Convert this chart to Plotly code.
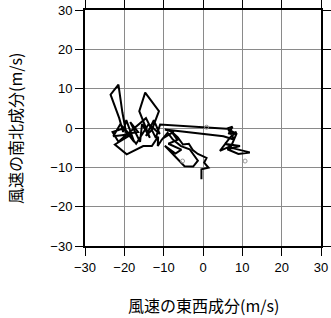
import plotly.graph_objects as go

# Hodograph: east-west (u) and north-south (v) wind components (m/s)
u = [-0.4, -0.4, 1.4, 0.3, 0.9, -1.3, -2.6, -3.6, -5.1, -6.4, -8.1, -6.5, -8.8,
     -5.5, -7.0, -9.7, -4.7, -2.5,
     -1.3, -3.4, -5.6, -7.6, -9.0, -10.5, -11.5, -11.4, -13.0, -15.2, -19.4, -22.4,
     -18.0, -22.8, -21.0, -17.5, -19.5, -20.3, -21.3, -23.5, -21.5, -20.5, -19.5,
     -16.5, -18.5, -16.0, -15.5, -13.5, -16.2, -14.7, -11.2, -13.0, -14.5, -12.5,
     -11.0, -13.8, -17.0, -20.0, -23.0, -21.5, -14.5, -12.0, -10.9, 0.9, 6.0, 7.5,
     6.5, 8.5, 6.9, 4.3, 7.3, 5.5, 9.4, 6.2, 9.0, 11.9, 7.0, 8.5, 6.4, 8.0, 5.2,
     -9.7, -7.5, -10.0]
v = [-13.0, -10.5, -10.1, -8.8, -7.6, -6.6, -5.6, -4.0, -4.2, -2.4, -0.8, -3.0, -4.0,
     -5.5, -6.5, -4.5, -9.7, -9.8,
     -8.3, -5.4, -4.6, -3.0, -1.2, -3.0, -4.6, -2.2, -4.6, -4.6, -6.7, -4.2,
     -1.5, -2.1, 1.0, -3.5, 2.0, -1.0, 2.5, 8.5, 11.0, 4.0, -1.5, -1.0, 1.5, -3.5,
     1.0, -2.5, 4.3, 9.0, 4.3, -0.5, -2.0, 2.0, -1.5, 1.0, -4.0, 0.0, -1.0, -3.5,
     2.5, -2.5, 0.9, 0.2, -0.2, 0.3, -1.5, -1.0, -2.4, -5.8, -4.5, -4.0, -4.6,
     -5.4, -6.6, -6.2, -5.0, -1.5, -0.3, -3.0, -2.1, -0.4, -1.0, -2.5]

mark_u = [10.7, -5.2, 0.9]
mark_v = [-8.4, -8.4, 0.2]

ticks = [-30, -20, -10, 0, 10, 20, 30]
tick_text = ["\u221230", "\u221220", "\u221210", "0", "10", "20", "30"]

xtitle = "風速の東西成分(m/s)"
ytitle = "風速の南北成分(m/s)"

fig = go.Figure()
fig.add_trace(go.Scatter(x=u, y=v, mode="lines",
                         line=dict(color="black", width=2), showlegend=False,
                         hoverinfo="skip"))
fig.add_trace(go.Scatter(x=mark_u, y=mark_v, mode="markers",
                         marker=dict(symbol="circle-open", size=4, color="#999999",
                                     line=dict(width=1)),
                         showlegend=False, hoverinfo="skip"))

axis_common = dict(range=[-30, 30], tickmode="array", tickvals=ticks, ticktext=tick_text,
                   showgrid=True, gridcolor="#8a8a8a", gridwidth=1,
                   zeroline=False, showline=True, linecolor="black", linewidth=2,
                   mirror="allticks", ticks="outside", ticklen=8, tickwidth=1,
                   tickcolor="black", automargin=False,
                   tickfont=dict(family="Liberation Sans, Arial, sans-serif", size=13,
                                 color="black"))

fig.update_xaxes(**axis_common)
fig.update_yaxes(**axis_common)

fig.update_layout(
    width=331, height=318,
    margin=dict(l=85, r=10, t=10, b=72),
    paper_bgcolor="white", plot_bgcolor="white",
    annotations=[
        dict(text=xtitle, xref="paper", yref="paper", x=0.5, y=-0.25,
             xanchor="center", yanchor="middle", showarrow=False,
             font=dict(family="Noto Sans CJK JP", size=16, color="black")),
        dict(text=ytitle, xref="paper", yref="paper", x=-0.297, y=0.5,
             xanchor="center", yanchor="middle", showarrow=False, textangle=-90,
             font=dict(family="Noto Sans CJK JP", size=16, color="black")),
    ],
)

fig.write_html("out.html")
